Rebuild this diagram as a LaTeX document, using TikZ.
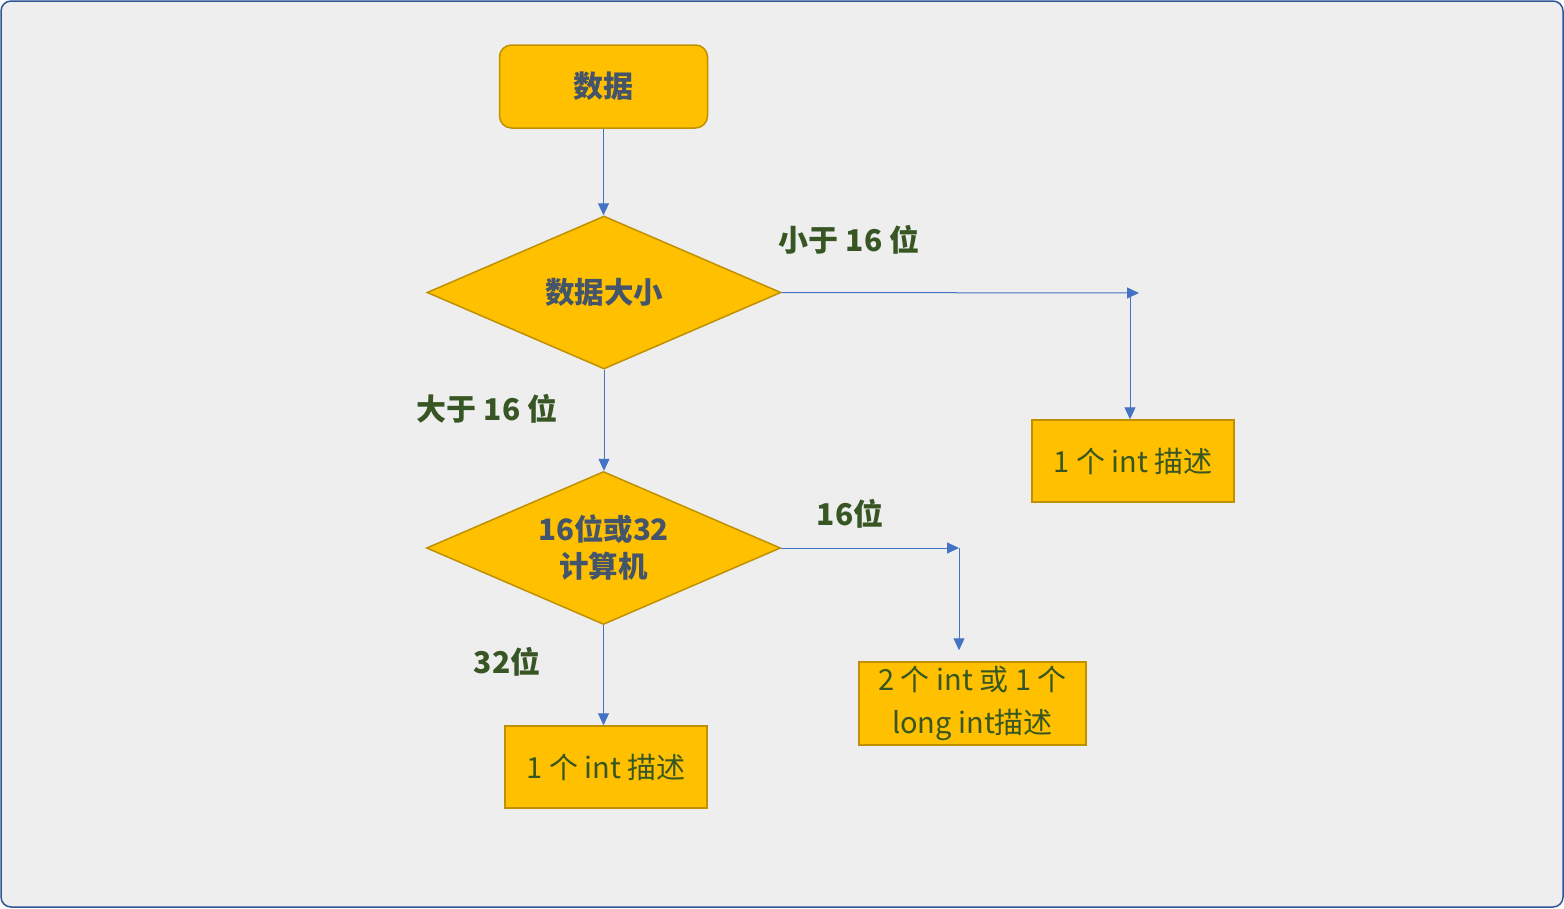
\documentclass[tikz,border=0pt]{standalone}
\usepackage{fontspec}
\setmainfont{Noto Sans CJK SC}
\usetikzlibrary{shapes.geometric,arrows.meta}
\definecolor{bgc}{HTML}{EEEEEE}
\definecolor{framec}{HTML}{2F5597}
\definecolor{fillc}{HTML}{FFC000}
\definecolor{edgec}{HTML}{BF9000}
\definecolor{darktxt}{HTML}{44546A}
\definecolor{greentxt}{HTML}{375623}
\definecolor{arrowc}{HTML}{4472C4}
\tikzset{
  startbox/.style={draw=edgec, fill=fillc, line width=1.5pt, rounded corners=12pt,
    minimum width=208pt, minimum height=83pt, inner sep=0pt,
    font=\fontsize{30}{34}\selectfont\bfseries, text=darktxt},
  decide/.style={diamond, aspect=2.3, draw=edgec, fill=fillc, line width=1.5pt,
    minimum width=354pt, minimum height=153pt, inner sep=0pt, align=center,
    font=\fontsize{29.5}{37}\selectfont\bfseries, text=darktxt},
  outbox/.style={draw=edgec, fill=fillc, line width=1.5pt,
    minimum width=202pt, minimum height=82pt, inner sep=0pt, align=center,
    font=\fontsize{29}{43}\selectfont, text=greentxt},
  lbl/.style={font=\fontsize{30}{34}\selectfont\bfseries, text=greentxt, inner sep=0pt},
  conn/.style={draw=arrowc, line width=1pt, -{Triangle[length=12pt,width=11pt]}},
}
\begin{document}
\begin{tikzpicture}[x=1pt,y=-1pt]
\useasboundingbox (0,0) rectangle (1564,908);
\draw[fill=bgc, draw=framec, line width=1.5pt, rounded corners=10pt] (1,1) rectangle (1563,907);

\node[startbox] (shu) at (603.5,86.5) {数据};
\node[decide] (d1) at (604,292.5) {数据大小};
\node[decide] (d2) at (603.5,548) {16位或32\\计算机};
\node[outbox] (b1) at (1133,461) {1 个 int 描述};
\node[outbox, minimum width=227pt, minimum height=83pt] (b2) at (972.5,703.5) {2 个 int 或 1 个\\long int描述};
\node[outbox] (b3) at (606,767) {1 个 int 描述};

\node[lbl] (l1) at (849,240) {小于 16 位};
\node[lbl] (l2) at (487,409) {大于 16 位};
\node[lbl] (l3) at (850,514) {16位};
\node[lbl] (l4) at (507,662) {32位};

\coordinate (c1) at (1139,293);
\coordinate (c1b) at (1130,293);
\coordinate (c2) at (959,548);

\draw[conn] (shu.south) -- (shu.south |- d1.north);
\draw[conn] (d1.east) -- (c1);
\draw[conn] (c1b) -- (c1b |- b1.north);
\draw[conn] (d1.south) -- (d1.south |- d2.north);
\draw[conn] (d2.east) -- (c2);
\draw[conn] (c2) -- ([yshift=11pt]c2 |- b2.north);
\draw[conn] (d2.south) -- (d2.south |- b3.north);
\end{tikzpicture}
\end{document}
